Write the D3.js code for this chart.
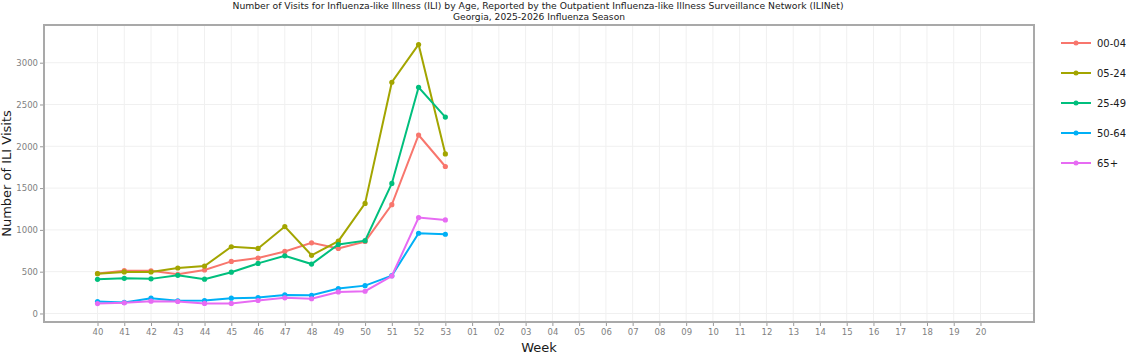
<!DOCTYPE html>
<meta charset="utf-8" />
<script src="https://d3js.org/d3.v7.min.js"></script>
<style>
  body { margin: 0; background: #fff; }
  text { font-family: "DejaVu Sans", sans-serif; }
</style>
<div id="my_dataviz"></div>
<script>
  // week labels across the season (x axis)
  const weeks = ["40","41","42","43","44","45","46","47","48","49","50","51","52","53",
    "01","02","03","04","05","06","07","08","09","10","11","12","13","14","15","16","17","18","19","20"];
  const ageGroups = ["00-04", "05-24", "25-49", "50-64", "65+"];
  const yTicks = [0, 500, 1000, 1500, 2000, 2500, 3000];

  // reported weeks 40..53
  const visits0004 = [478, 512, 510, 468, 520, 623, 663, 742, 845, 778, 861, 1302, 2135, 1758];
  const visits0524 = [476, 497, 496, 544, 567, 798, 778, 1040, 696, 865, 1317, 2766, 3218, 1909];
  const visits2549 = [409, 420, 414, 456, 410, 494, 599, 690, 591, 825, 871, 1556, 2706, 2349];
  const visits5064 = [143, 132, 183, 151, 155, 183, 190, 222, 218, 298, 333, 452, 960, 948];
  const visits65 = [119, 127, 147, 143, 120, 120, 155, 187, 176, 258, 266, 448, 1147, 1119];

  const colors = ["#F8766D", "#A3A500", "#00BF7D", "#00B0F6", "#E76BF3"];
  const seriesValues = [visits0004, visits0524, visits2549, visits5064, visits65];

  const W = 1126, H = 355;
  const margin = { top: 25, right: 92, bottom: 33, left: 44 },
    width = W - margin.left - margin.right,
    height = H - margin.top - margin.bottom;

  const svg = d3.select("#my_dataviz").append("svg")
    .attr("width", W).attr("height", H);

  // title, two lines
  const title = svg.append("text").attr("text-anchor", "middle")
    .style("font-size", "9px").attr("fill", "#1a1a1a");
  title.append("tspan").attr("x", 538).attr("y", 9)
    .attr("textLength", 611).attr("lengthAdjust", "spacingAndGlyphs")
    .text("Number of Visits for Influenza-like Illness (ILI) by Age, Reported by the Outpatient Influenza-like Illness Surveillance Network (ILINet)");
  title.append("tspan").attr("x", 539).attr("y", 20)
    .attr("textLength", 172).attr("lengthAdjust", "spacingAndGlyphs")
    .text("Georgia, 2025-2026 Influenza Season");

  const g = svg.append("g").attr("transform", `translate(${margin.left}, ${margin.top})`);

  // scales: 2 weeks of padding on each side
  const x = d3.scaleLinear().domain([-2, weeks.length + 1]).range([0, width]);
  const y = d3.scaleLinear().domain([-102, 3451]).range([height, 0]);

  // grid
  g.append("g").selectAll("line").data(weeks).join("line")
    .attr("x1", (d, i) => x(i)).attr("x2", (d, i) => x(i))
    .attr("y1", 0).attr("y2", height)
    .attr("stroke", "#f0f0f0").attr("stroke-width", 1);
  g.append("g").selectAll("line").data(yTicks).join("line")
    .attr("x1", 0).attr("x2", width)
    .attr("y1", d => y(d)).attr("y2", d => y(d))
    .attr("stroke", "#f0f0f0").attr("stroke-width", 1);

  // axes
  const xAxis = g.append("g").attr("transform", `translate(0, ${height})`)
    .call(d3.axisBottom(x).tickValues(d3.range(weeks.length))
      .tickFormat(i => weeks[i]).tickSize(4).tickPadding(3));
  const yAxis = g.append("g")
    .call(d3.axisLeft(y).tickValues(yTicks).tickFormat(d3.format("d"))
      .tickSize(4).tickPadding(2));
  [xAxis, yAxis].forEach(a => {
    a.select(".domain").remove();
    a.selectAll(".tick line").attr("stroke", "#999");
    a.selectAll(".tick text").attr("fill", "#7f7f7f")
      .style("font-family", "DejaVu Sans").style("font-size", "8.5px");
  });

  // frame
  g.append("rect").attr("x", 0).attr("y", 0).attr("width", width).attr("height", height)
    .attr("fill", "none").attr("stroke", "#a9a9a9").attr("stroke-width", 2);

  // axis titles
  svg.append("text").attr("text-anchor", "middle")
    .attr("x", margin.left + width / 2).attr("y", 352)
    .style("font-size", "13px").attr("fill", "#1a1a1a").text("Week");
  svg.append("text").attr("text-anchor", "middle")
    .attr("transform", `translate(11, ${margin.top + height / 2}) rotate(-90)`)
    .style("font-size", "13px").attr("fill", "#1a1a1a").text("Number of ILI Visits");

  // lines + points
  const line = d3.line().x((d, i) => x(i)).y(d => y(d));
  ageGroups.forEach(function (key, k) {
    const vals = seriesValues[k];
    g.append("path").datum(vals)
      .attr("fill", "none").attr("stroke", colors[k]).attr("stroke-width", 2)
      .attr("d", line);
    g.append("g").selectAll("circle").data(vals).join("circle")
      .attr("cx", (d, i) => x(i)).attr("cy", d => y(d)).attr("r", 2.6)
      .attr("fill", colors[k]);
  });

  // legend
  const legend = svg.append("g");
  ageGroups.forEach(function (key, k) {
    const ly = 43 + k * 30;
    legend.append("line").attr("x1", 1061).attr("x2", 1091).attr("y1", ly).attr("y2", ly)
      .attr("stroke", colors[k]).attr("stroke-width", 2);
    legend.append("circle").attr("cx", 1076).attr("cy", ly).attr("r", 2.5).attr("fill", colors[k]);
    legend.append("text").attr("x", 1097).attr("y", ly).attr("dy", "0.35em")
      .style("font-size", "10px").attr("fill", "#1a1a1a").text(key);
  });
</script>
